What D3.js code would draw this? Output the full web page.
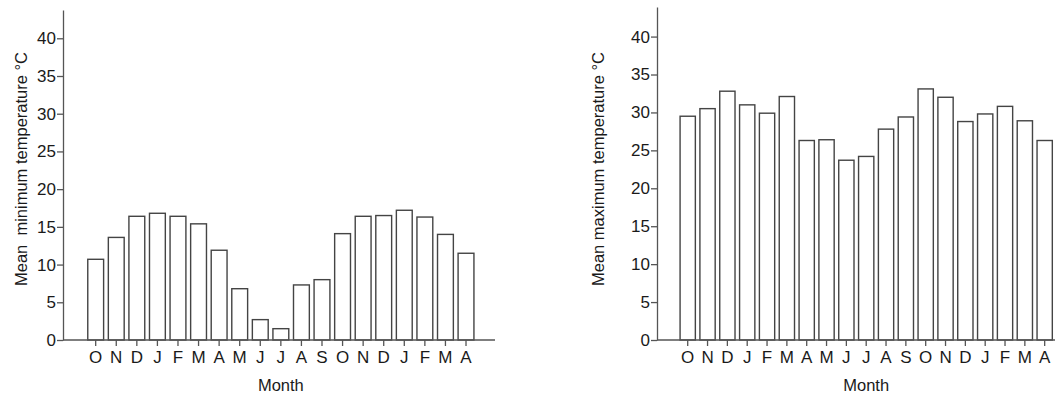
<!DOCTYPE html>
<html>
<head>
<meta charset="utf-8">
<style>
  body { margin: 0; background: #fff; }
  svg { display: block; font-family: "Liberation Sans", Arial, sans-serif; }
  .axis text { font-size: 17px; fill: #1a1a1a; }
  .axis path, .axis line { stroke: #555; stroke-width: 1.3; }
</style>
</head>
<body>
<svg width="1059" height="401"></svg>
<script src="https://d3js.org/d3.v7.min.js"></script>
<script>
    // month sequence (Oct .. Apr of the following year-after)
    var months = ["O", "N", "D", "J", "F", "M", "A", "M", "J", "J", "A", "S",
                  "O", "N", "D", "J", "F", "M", "A"];

    var minTemp = [10.7, 13.6, 16.4, 16.8, 16.4, 15.4, 11.9, 6.8, 2.7, 1.5, 7.3, 8.0,
                   14.1, 16.4, 16.5, 17.2, 16.3, 14.0, 11.5];

    var maxTemp = [29.5, 30.5, 32.8, 31.0, 29.9, 32.1, 26.3, 26.4, 23.7, 24.2, 27.8, 29.4,
                   33.1, 32.0, 28.8, 29.8, 30.8, 28.9, 26.3];

    var yTicks = [0, 5, 10, 15, 20, 25, 30, 35, 40];

    var svg = d3.select("svg");

    drawPanel({
        values: minTemp,
        label: "Mean\u00a0 minimum temperature \u00b0C",
        axisX: 63, axisTop: 10, baseY: 340, yMax: 43.75,
        bandLeft: 85.4, bandRight: 476.3, lineEnd: 495,
        labelX: 21
    });

    drawPanel({
        values: maxTemp,
        label: "Mean maximum temperature \u00b0C",
        axisX: 657, axisTop: 7, baseY: 340, yMax: 43.9,
        bandLeft: 677.8, bandRight: 1054.6, lineEnd: 1055,
        labelX: 598
    });

    function drawPanel(p) {
        var g = svg.append("g");

        var x = d3.scaleBand()
            .domain(d3.range(months.length))
            .range([p.bandLeft, p.bandRight])
            .paddingInner(0.23)
            .paddingOuter(0.115);

        var y = d3.scaleLinear()
            .domain([0, p.yMax])
            .range([p.baseY, p.axisTop]);

        // bars
        g.selectAll("rect.bar")
            .data(p.values)
            .enter().append("rect")
            .attr("class", "bar")
            .attr("x", function (d, i) { return x(i); })
            .attr("y", function (d) { return y(d); })
            .attr("width", x.bandwidth())
            .attr("height", function (d) { return y(0) - y(d); })
            .attr("fill", "#fff")
            .attr("stroke", "#444")
            .attr("stroke-width", 1.4);

        // y axis
        g.append("g")
            .attr("class", "axis")
            .attr("transform", "translate(" + p.axisX + ",0)")
            .call(d3.axisLeft(y)
                .tickValues(yTicks)
                .tickSize(6)
                .tickSizeOuter(0)
                .tickPadding(1));

        // x axis ticks + letters
        var xa = g.append("g")
            .attr("class", "axis")
            .attr("transform", "translate(0," + p.baseY + ")")
            .call(d3.axisBottom(x)
                .tickSize(6)
                .tickPadding(5)
                .tickFormat(function (i) { return months[i]; }));
        xa.select(".domain").remove();

        // baseline
        g.append("line")
            .attr("x1", p.axisX)
            .attr("x2", p.lineEnd)
            .attr("y1", p.baseY)
            .attr("y2", p.baseY)
            .attr("stroke", "#555")
            .attr("stroke-width", 1.3);

        // axis titles
        g.append("text")
            .attr("x", (p.bandLeft + p.bandRight) / 2)
            .attr("y", 391)
            .attr("text-anchor", "middle")
            .attr("font-size", 16.5)
            .attr("fill", "#1a1a1a")
            .text("Month");

        g.append("text")
            .attr("transform", "translate(" + p.labelX + ",169) rotate(-90)")
            .attr("text-anchor", "middle")
            .attr("dy", "0.35em")
            .attr("font-size", 16.5)
            .attr("fill", "#1a1a1a")
            .text(p.label);
    }
</script>
</body>
</html>
